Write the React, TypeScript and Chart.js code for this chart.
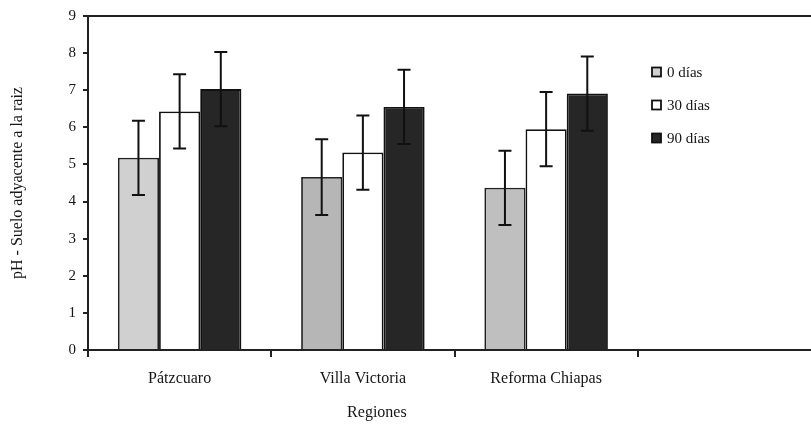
import React, { useEffect, useRef } from 'react';
import { Chart, registerables } from 'chart.js';

Chart.register(...registerables);

const regions = ['Pátzcuaro', 'Villa Victoria', 'Reforma Chiapas', ''];
const seriesLabels = ['0 días', '30 días', '90 días'];
const dias0 = [5.18, 4.66, 4.37, null];
const dias30 = [6.43, 5.32, 5.95, null];
const dias90 = [7.03, 6.55, 6.91, null];
const err0 = [1.0, 1.02, 1.0, null];
const err30 = [1.0, 1.0, 1.0, null];
const err90 = [1.0, 1.0, 1.0, null];
const yMin = 0;
const yMax = 9;
const yStep = 1;
const yTitle = 'pH - Suelo adyacente a la raiz';
const xTitle = 'Regiones';

const SERIF = "'Liberation Serif', 'Times New Roman', serif";
const TEXT = '#151515';
const lightFills = ['#d0d0d0', '#b6b6b6', '#bfbfbf', '#bfbfbf'];

const errorBarPlugin = {
  id: 'errorBars',
  afterDatasetsDraw(chart: any) {
    const ctx = chart.ctx;
    const yScale = chart.scales.y;
    chart.data.datasets.forEach((ds: any, i: number) => {
      const meta = chart.getDatasetMeta(i);
      meta.data.forEach((bar: any, j: number) => {
        const v = ds.data[j];
        const e = ds.errors ? ds.errors[j] : null;
        if (v == null || e == null) return;
        const yTop = yScale.getPixelForValue(v + e);
        const yBot = yScale.getPixelForValue(v - e);
        const half = 6.5;
        ctx.save();
        ctx.strokeStyle = '#111';
        ctx.lineWidth = 2;
        ctx.beginPath();
        ctx.moveTo(bar.x, yTop);
        ctx.lineTo(bar.x, yBot);
        ctx.moveTo(bar.x - half, yTop);
        ctx.lineTo(bar.x + half, yTop);
        ctx.moveTo(bar.x - half, yBot);
        ctx.lineTo(bar.x + half, yBot);
        ctx.stroke();
        ctx.restore();
      });
    });
  },
};

const framePlugin = {
  id: 'frameAndTitle',
  afterDraw(chart: any) {
    const { ctx, chartArea } = chart;
    const xScale = chart.scales.x;
    ctx.save();
    ctx.strokeStyle = '#222';
    ctx.lineWidth = 2;
    ctx.beginPath();
    ctx.moveTo(chartArea.left, chartArea.top);
    ctx.lineTo(chartArea.right, chartArea.top);
    ctx.stroke();
    // x-axis title
    ctx.fillStyle = TEXT;
    ctx.font = `16px ${SERIF}`;
    ctx.textAlign = 'center';
    ctx.textBaseline = 'middle';
    const cx = (xScale.getPixelForValue(0) + xScale.getPixelForValue(2)) / 2 + 14;
    ctx.fillText(xTitle, cx, chartArea.bottom + 63);
    // legend
    const lx = chartArea.left + 564;
    let ly = chartArea.top + 56;
    chart.data.datasets.forEach((ds: any) => {
      const fill = Array.isArray(ds.backgroundColor) ? ds.backgroundColor[0] : ds.backgroundColor;
      ctx.fillStyle = fill;
      ctx.fillRect(lx, ly - 4.5, 9, 9);
      ctx.strokeStyle = '#111';
      ctx.lineWidth = 1.8;
      ctx.strokeRect(lx, ly - 4.5, 9, 9);
      ctx.fillStyle = TEXT;
      ctx.font = `15px ${SERIF}`;
      ctx.textAlign = 'left';
      ctx.fillText(ds.label, lx + 15, ly + 1);
      ly += 33;
    });
    ctx.restore();
  },
};

export default function App() {
  const ref = useRef<HTMLCanvasElement>(null);
  useEffect(() => {
    if (!ref.current) return;
    const chart = new Chart(ref.current, {
      type: 'bar',
      data: {
        labels: regions,
        datasets: [
          {
            label: seriesLabels[0],
            data: dias0,
            errors: err0,
            backgroundColor: lightFills,
            borderColor: '#222',
            borderWidth: 1.8,
          } as any,
          {
            label: seriesLabels[1],
            data: dias30,
            errors: err30,
            backgroundColor: '#ffffff',
            borderColor: '#111',
            borderWidth: 1.8,
          } as any,
          {
            label: seriesLabels[2],
            data: dias90,
            errors: err90,
            backgroundColor: '#262626',
            borderColor: '#121212',
            borderWidth: 1.8,
          } as any,
        ],
      },
      options: {
        responsive: false,
        animation: false,
        datasets: { bar: { categoryPercentage: 0.674, barPercentage: 1.0 } },
        layout: { padding: { top: 15, left: 0, right: 0, bottom: 0 } },
        plugins: { legend: { display: false }, tooltip: { enabled: false } },
        scales: {
          x: {
            grid: { display: true, drawOnChartArea: false, offset: true, tickLength: 7, color: '#222', lineWidth: 2 },
            border: { display: true, color: '#222', width: 2 },
            ticks: { font: { family: SERIF, size: 16 }, color: TEXT, padding: 12, maxRotation: 0, autoSkip: false },
            afterFit(scale: any) {
              scale.height = 75;
            },
          },
          y: {
            min: yMin,
            max: yMax,
            grid: { display: true, drawOnChartArea: false, tickLength: 5, color: '#222', lineWidth: 2 },
            border: { display: true, color: '#222', width: 2 },
            ticks: { stepSize: yStep, font: { family: SERIF, size: 15 }, color: TEXT, padding: 7 },
            title: { display: true, text: yTitle, font: { family: SERIF, size: 16 }, color: TEXT, padding: { top: 8, bottom: 0 } },
            afterFit(scale: any) {
              scale.width = 88;
            },
          },
        },
      },
      plugins: [errorBarPlugin, framePlugin],
    });
    return () => chart.destroy();
  }, []);
  return (
    <div style={{ position: 'fixed', left: 0, top: 0, width: 811, height: 425, overflow: 'hidden', background: '#fff' }}>
      <canvas ref={ref} width={821} height={425} style={{ display: 'block', width: 821, height: 425 }} />
    </div>
  );
}
